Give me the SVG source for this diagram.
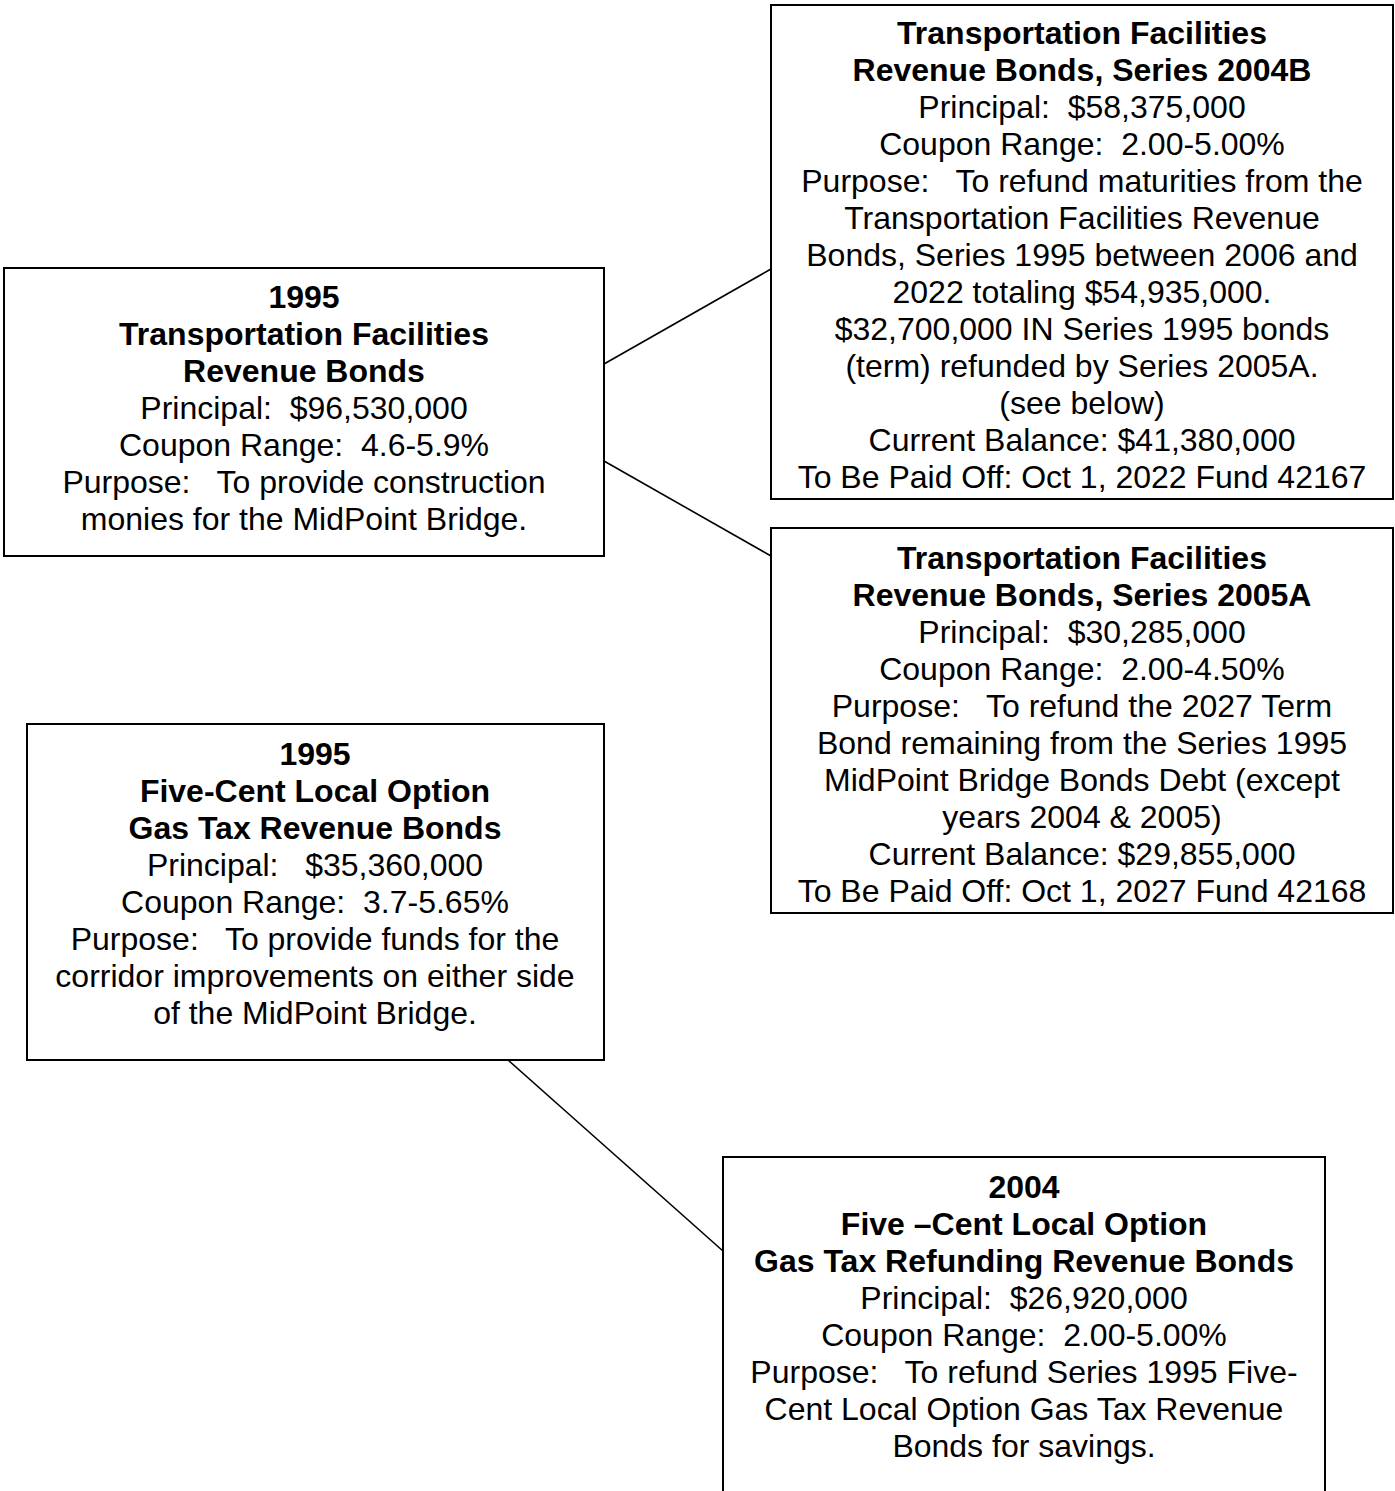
<svg xmlns="http://www.w3.org/2000/svg" width="1395" height="1491" viewBox="0 0 1395 1491">
<style>
.box{fill:#fff;stroke:#000;stroke-width:2}
.conn{stroke:#000;stroke-width:1.6;fill:none}
text{font-family:"Liberation Sans",Arial,sans-serif;font-size:32px;fill:#000;text-anchor:middle;white-space:pre}
.b{font-weight:bold}
</style>
<rect width="1395" height="1491" fill="#fff"/>
<g id="connectors">
<line class="conn" x1="604" y1="364" x2="771" y2="269"/>
<line class="conn" x1="604" y1="461" x2="771" y2="556"/>
<line class="conn" x1="508" y1="1060" x2="723" y2="1251"/>
</g>
<g id="node-1995-tfrb">
<rect class="box" x="4" y="268" width="600" height="288"/>
<text x="304" y="308" class="b">1995</text>
<text x="304" y="345" class="b">Transportation Facilities</text>
<text x="304" y="382" class="b">Revenue Bonds</text>
<text x="304" y="419">Principal:  $96,530,000</text>
<text x="304" y="456">Coupon Range:  4.6-5.9%</text>
<text x="304" y="493">Purpose:   To provide construction</text>
<text x="304" y="530">monies for the MidPoint Bridge.</text>
</g>
<g id="node-2004b">
<rect class="box" x="771" y="5" width="622" height="494"/>
<text x="1082" y="44" class="b">Transportation Facilities</text>
<text x="1082" y="81" class="b">Revenue Bonds, Series 2004B</text>
<text x="1082" y="118">Principal:  $58,375,000</text>
<text x="1082" y="155">Coupon Range:  2.00-5.00%</text>
<text x="1082" y="192">Purpose:   To refund maturities from the</text>
<text x="1082" y="229">Transportation Facilities Revenue</text>
<text x="1082" y="266">Bonds, Series 1995 between 2006 and</text>
<text x="1082" y="303">2022 totaling $54,935,000.</text>
<text x="1082" y="340">$32,700,000 IN Series 1995 bonds</text>
<text x="1082" y="377">(term) refunded by Series 2005A.</text>
<text x="1082" y="414">(see below)</text>
<text x="1082" y="451">Current Balance: $41,380,000</text>
<text x="1082" y="488">To Be Paid Off: Oct 1, 2022 Fund 42167</text>
</g>
<g id="node-2005a">
<rect class="box" x="771" y="528" width="622" height="385"/>
<text x="1082" y="569" class="b">Transportation Facilities</text>
<text x="1082" y="606" class="b">Revenue Bonds, Series 2005A</text>
<text x="1082" y="643">Principal:  $30,285,000</text>
<text x="1082" y="680">Coupon Range:  2.00-4.50%</text>
<text x="1082" y="717">Purpose:   To refund the 2027 Term</text>
<text x="1082" y="754">Bond remaining from the Series 1995</text>
<text x="1082" y="791">MidPoint Bridge Bonds Debt (except</text>
<text x="1082" y="828">years 2004 &amp; 2005)</text>
<text x="1082" y="865">Current Balance: $29,855,000</text>
<text x="1082" y="902">To Be Paid Off: Oct 1, 2027 Fund 42168</text>
</g>
<g id="node-1995-gas">
<rect class="box" x="27" y="724" width="577" height="336"/>
<text x="315" y="765" class="b">1995</text>
<text x="315" y="802" class="b">Five-Cent Local Option</text>
<text x="315" y="839" class="b">Gas Tax Revenue Bonds</text>
<text x="315" y="876">Principal:   $35,360,000</text>
<text x="315" y="913">Coupon Range:  3.7-5.65%</text>
<text x="315" y="950">Purpose:   To provide funds for the</text>
<text x="315" y="987">corridor improvements on either side</text>
<text x="315" y="1024">of the MidPoint Bridge.</text>
</g>
<g id="node-2004-gas">
<rect class="box" x="723" y="1157" width="602" height="350"/>
<text x="1024" y="1198" class="b">2004</text>
<text x="1024" y="1235" class="b">Five –Cent Local Option</text>
<text x="1024" y="1272" class="b">Gas Tax Refunding Revenue Bonds</text>
<text x="1024" y="1309">Principal:  $26,920,000</text>
<text x="1024" y="1346">Coupon Range:  2.00-5.00%</text>
<text x="1024" y="1383">Purpose:   To refund Series 1995 Five-</text>
<text x="1024" y="1420">Cent Local Option Gas Tax Revenue</text>
<text x="1024" y="1457">Bonds for savings.</text>
</g>
</svg>
